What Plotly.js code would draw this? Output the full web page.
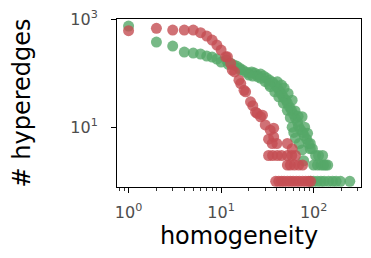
<!DOCTYPE html>
<html>
<head>
<meta charset="utf-8">
<script src="https://cdn.plot.ly/plotly-3.0.1.min.js"></script>
<style>html,body{margin:0;padding:0;background:#fff}#chart{width:371px;height:258px}</style>
</head>
<body>
<div id="chart"></div>
<script>
// Green series (homogeneity, # hyperedges)
const greenX = [1,2,3,4,5,6,7,8,9,10,
  11.4,12.6,13.7,14.7,15.8,17.1,18.4,19.9,21.4,23,24.8,26.7,28.8,31,33.4,36,
  38.7,40.8,43,45,47,50,52,55,57.6,60.6,63.6,67,68.6,72,76,79,84,88,92,97,
  40.5,45,48,53,58.6,63,68,75,80,86,92,
  34,38,42,47,52,56,58.6,61,63.6,70,75,78,
  22,25,27,30,33,12,16,20,
  105,113,125,100,110,120,128,135,142,
  93,100,110,120,130,145,160,175,195,246];
const greenY = [741,375,316,245,235,225,206,198,182,160,
  174,153,141,135,124,114,105,100,105,100,92,96,88,81,74,68,
  60,53,46,41,36,32,28,23.5,20.5,17.4,14.7,12.4,10.4,9,8,7,6,5,4,4,
  69,60,53,42,31.6,20,16,15.6,10,7.7,5,
  56,45,36.5,28,20.5,15,10,8,6.3,5,3.8,2.4,
  88,85,80,70,62,145,115,92,
  3,3,3,2,2,2,2,2,2,
  1,1,1,1,1,1,1,1,1,1];

// Red series (homogeneity, # hyperedges)
const redX = [1,2,3,4,5,6,7,8,9,10,
  11.2,11.7,12.7,13.2,14,15.6,16.3,17.7,18.4,20.8,22,23.6,24.6,26.7,28,30,
  34,37,37,32.6,35.7,40,52,58.6,
  32.6,36,40.5,45,52,58,63.6,
  52,56,62,69,76,
  38.9,42,45,48,52,56,60,65,70,76,82,88,93];
const redY = [608,672,625,625,625,558,484,408,330,267,
  200,200,150,114,105,74,64,48,45,29.5,25,19,18,15.6,16.7,11,
  8.8,9.6,6.6,6,5,5,5,4,
  3,3,3,3,3,3,3,
  2,2,2,2,2,
  1,1,1,1,1,1,1,1,1,1,1,1,1];

const xTickVals = [1,10,100];
const xTickText = ['10<sup>0</sup>','10<sup>1</sup>','10<sup>2</sup>'];
const yTickVals = [10,1000];
const yTickText = ['10<sup>1</sup>','10<sup>3</sup>'];
const xMinorVals = [0.8,0.9,2,3,4,5,6,7,8,9,20,30,40,50,60,70,80,90,200,300];

const traces = [
  {x: greenX, y: greenY, type: 'scatter', mode: 'markers', name: 'green',
   marker: {size: 11, color: '#55a868', opacity: 0.8, line: {width: 0}}},
  {x: redX, y: redY, type: 'scatter', mode: 'markers', name: 'red',
   marker: {size: 11, color: '#c44e52', opacity: 0.8, line: {width: 0}}}
];

const tickFont = {family: 'DejaVu Sans', size: 16, color: '#4d4d4d'};
const titleFont = {family: 'DejaVu Sans', size: 24, color: '#000'};

const layout = {
  width: 371, height: 258,
  margin: {l: 117, r: 10, t: 19, b: 71, pad: 0},
  paper_bgcolor: '#fff', plot_bgcolor: '#fff',
  showlegend: false,
  xaxis: {
    type: 'log', range: [-0.125, 2.512],
    tickvals: xTickVals, ticktext: xTickText,
    ticks: 'outside', ticklen: 5, tickwidth: 1, tickcolor: '#000',
    minor: {tickvals: xMinorVals, ticks: 'outside', ticklen: 2.5, tickwidth: 0.8, tickcolor: '#000', showgrid: false},
    showgrid: false, zeroline: false,
    showline: true, linecolor: '#000', linewidth: 1, mirror: true,
    tickfont: tickFont, ticklabelstandoff: 6,
    title: {text: 'homogeneity', font: titleFont, standoff: 2}
  },
  yaxis: {
    type: 'log', range: [-0.105, 3.0],
    tickvals: yTickVals, ticktext: yTickText,
    ticks: 'outside', ticklen: 5, tickwidth: 1, tickcolor: '#000',
    showgrid: false, zeroline: false,
    showline: true, linecolor: '#000', linewidth: 1, mirror: true,
    tickfont: tickFont, ticklabelstandoff: 10,
    title: {text: '# hyperedges', font: titleFont, standoff: 32}
  }
};

Plotly.newPlot('chart', traces, layout, {staticPlot: true, displayModeBar: false});
</script>
</body>
</html>
